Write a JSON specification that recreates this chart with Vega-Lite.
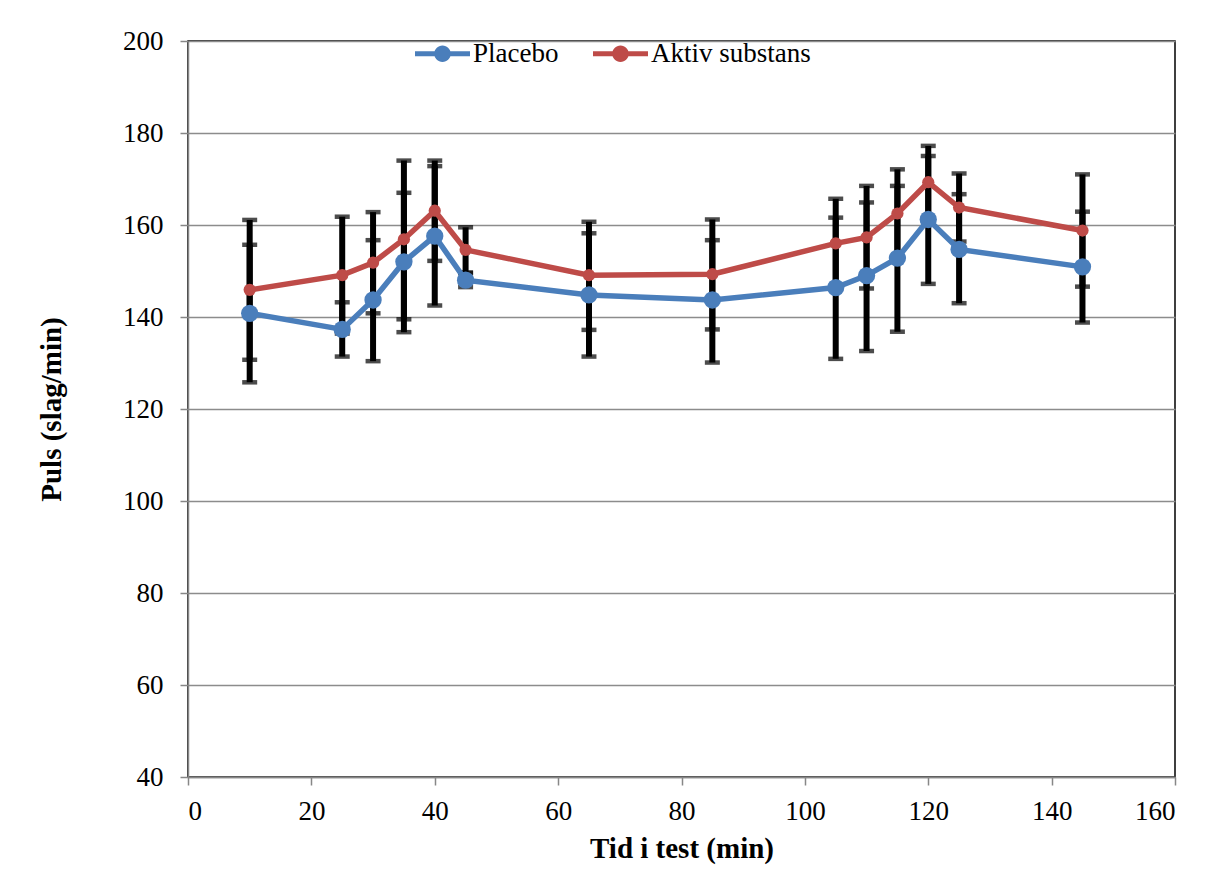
{
  "$schema": "https://vega.github.io/schema/vega-lite/v6.json",
  "autosize": {"type": "none"},
  "padding": {"left": 188, "top": 41, "right": 30, "bottom": 105},
  "width": 987,
  "height": 736,
  "background": "white",
  "config": {
    "font": "Liberation Serif",
    "view": {"stroke": "#000000", "strokeWidth": 1.5},
    "axis": {
      "labelFont": "Liberation Serif",
      "labelFontSize": 27,
      "labelColor": "#000000",
      "titleFont": "Liberation Serif",
      "titleFontSize": 29,
      "titleFontWeight": "bold",
      "titleColor": "#000000",
      "domainColor": "#878787",
      "domainWidth": 1.5,
      "tickColor": "#878787",
      "tickWidth": 1.5,
      "tickSize": 8,
      "gridColor": "#8c8c8c",
      "gridWidth": 1.5
    },
    "legend": {
      "labelFont": "Liberation Serif",
      "labelFontSize": 27,
      "labelColor": "#000000",
      "padding": 0,
      "symbolSize": 3025
    }
  },
  "data": {
    "values": [
      {"t": 10, "series": "Placebo", "v": 140.8, "lo": 125.8, "hi": 155.7},
      {"t": 25, "series": "Placebo", "v": 137.3, "lo": 131.4, "hi": 143.2},
      {"t": 30, "series": "Placebo", "v": 143.7, "lo": 130.4, "hi": 156.7},
      {"t": 35, "series": "Placebo", "v": 152.0, "lo": 136.7, "hi": 167.0},
      {"t": 40, "series": "Placebo", "v": 157.6, "lo": 142.5, "hi": 172.8},
      {"t": 45, "series": "Placebo", "v": 148.0, "lo": 146.5, "hi": 149.5},
      {"t": 65, "series": "Placebo", "v": 144.8, "lo": 131.4, "hi": 158.2},
      {"t": 85, "series": "Placebo", "v": 143.7, "lo": 130.1, "hi": 156.7},
      {"t": 105, "series": "Placebo", "v": 146.4, "lo": 130.9, "hi": 161.6},
      {"t": 110, "series": "Placebo", "v": 149.0, "lo": 132.6, "hi": 164.9},
      {"t": 115, "series": "Placebo", "v": 152.8, "lo": 136.8, "hi": 168.5},
      {"t": 120, "series": "Placebo", "v": 161.2, "lo": 147.2, "hi": 175.0},
      {"t": 125, "series": "Placebo", "v": 154.7, "lo": 143.0, "hi": 166.7},
      {"t": 145, "series": "Placebo", "v": 150.9, "lo": 138.8, "hi": 162.9},
      {"t": 10, "series": "Aktiv substans", "v": 145.9, "lo": 130.7, "hi": 161.1},
      {"t": 25, "series": "Aktiv substans", "v": 149.1, "lo": 136.4, "hi": 161.8},
      {"t": 30, "series": "Aktiv substans", "v": 151.8, "lo": 140.8, "hi": 162.8},
      {"t": 35, "series": "Aktiv substans", "v": 156.9, "lo": 139.5, "hi": 174.0},
      {"t": 40, "series": "Aktiv substans", "v": 163.1, "lo": 152.2, "hi": 174.0},
      {"t": 45, "series": "Aktiv substans", "v": 154.6, "lo": 149.7, "hi": 159.5},
      {"t": 65, "series": "Aktiv substans", "v": 149.1, "lo": 137.2, "hi": 160.7},
      {"t": 85, "series": "Aktiv substans", "v": 149.3, "lo": 137.3, "hi": 161.2},
      {"t": 105, "series": "Aktiv substans", "v": 156.0, "lo": 146.3, "hi": 165.7},
      {"t": 110, "series": "Aktiv substans", "v": 157.3, "lo": 146.2, "hi": 168.5},
      {"t": 115, "series": "Aktiv substans", "v": 162.5, "lo": 152.9, "hi": 172.1},
      {"t": 120, "series": "Aktiv substans", "v": 169.3, "lo": 161.4, "hi": 177.2},
      {"t": 125, "series": "Aktiv substans", "v": 163.8, "lo": 156.4, "hi": 171.2},
      {"t": 145, "series": "Aktiv substans", "v": 158.8, "lo": 146.6, "hi": 171.0}
    ]
  },
  "encoding": {
    "x": {
      "field": "t", "type": "quantitative",
      "scale": {"domain": [0, 160], "nice": false, "zero": false},
      "axis": {"values": [0, 20, 40, 60, 80, 100, 120, 140, 160], "grid": false, "title": "Tid i test (min)", "labelPadding": 13, "titlePadding": 10}
    }
  },
  "layer": [
    {
      "mark": {"type": "errorbar", "color": "#000000", "rule": {"strokeWidth": 6}, "ticks": {"size": 15, "thickness": 4.5, "color": "#000000"}},
      "encoding": {
        "y": {
          "field": "lo", "type": "quantitative",
          "scale": {"domain": [40, 200], "nice": false, "zero": false},
          "axis": {"values": [40, 60, 80, 100, 120, 140, 160, 180, 200], "grid": true, "title": "Puls (slag/min)", "labelPadding": 17, "titlePadding": 56}
        },
        "y2": {"field": "hi"},
        "detail": {"field": "series"}
      }
    },
    {
      "mark": {"type": "line", "strokeWidth": 5.5},
      "encoding": {
        "y": {"field": "v", "type": "quantitative"},
        "color": {
          "field": "series", "type": "nominal",
          "scale": {"domain": ["Placebo", "Aktiv substans"], "range": ["#4A7EBB", "#BE4B48"]},
          "legend": {
            "title": null,
            "orient": "none",
            "direction": "horizontal",
            "legendX": 227,
            "legendY": -15,
            "symbolType": "M-1,-0.09L1,-0.09L1,0.09L-1,0.09ZM-0.3,0A0.3,0.3 0 1,1 0.3,0A0.3,0.3 0 1,1 -0.3,0Z",
            "symbolSize": 3025,
            "symbolStrokeWidth": 0,
            "symbolOpacity": 1,
            "labelOffset": 3,
            "columnPadding": 34,
            "encode": {
              "symbols": {
                "update": {
                  "fill": {"scale": "color", "field": "value"},
                  "stroke": {"value": "transparent"},
                  "opacity": {"value": 1}
                }
              }
            }
          }
        }
      }
    },
    {
      "transform": [{"filter": "datum.series === 'Placebo'"}],
      "mark": {"type": "point", "filled": true, "opacity": 1, "size": 300},
      "encoding": {
        "y": {"field": "v", "type": "quantitative"},
        "color": {"field": "series", "type": "nominal", "scale": {"domain": ["Placebo", "Aktiv substans"], "range": ["#4A7EBB", "#BE4B48"]}}
      }
    },
    {
      "transform": [{"filter": "datum.series === 'Aktiv substans'"}],
      "mark": {"type": "point", "filled": true, "opacity": 1, "size": 150},
      "encoding": {
        "y": {"field": "v", "type": "quantitative"},
        "color": {"field": "series", "type": "nominal", "scale": {"domain": ["Placebo", "Aktiv substans"], "range": ["#4A7EBB", "#BE4B48"]}}
      }
    }
  ]
}
